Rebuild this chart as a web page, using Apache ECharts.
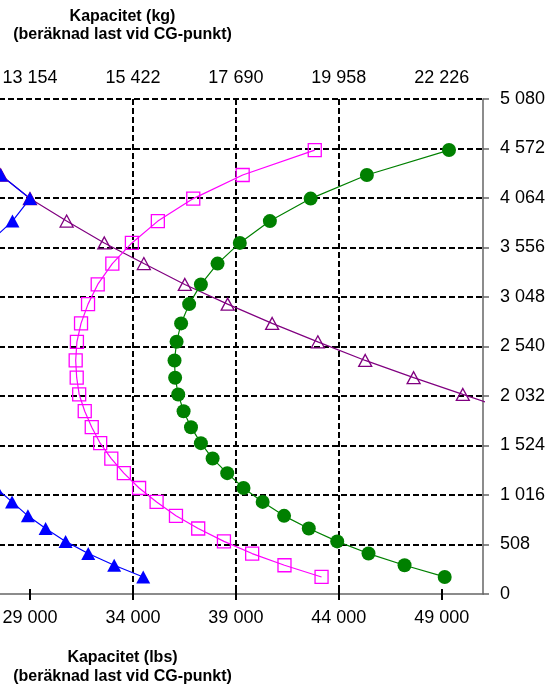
<!DOCTYPE html>
<html>
<head>
<meta charset="utf-8">
<script src="https://cdn.jsdelivr.net/npm/echarts@6/dist/echarts.min.js"></script>
<style>
html,body{margin:0;padding:0;background:#fff;overflow:hidden;width:551px;height:687px;}
#wrap{position:relative;width:551px;height:687px;overflow:hidden;}
#c{position:absolute;left:-73px;top:0;width:624px;height:687px;}
</style>
</head>
<body>
<div id="wrap"><div id="c"></div></div>
<script>
// Tick positions / labels
const lbsTicks = [29000, 34000, 39000, 44000, 49000];
const lbsLabels = ['29 000', '34 000', '39 000', '44 000', '49 000'];
const kgLabels = ['13 154', '15 422', '17 690', '19 958', '22 226'];
const yTickValues = [0, 508, 1016, 1524, 2032, 2540, 3048, 3556, 4064, 4572, 5080];
const yTickLabels = ['0', '508', '1 016', '1 524', '2 032', '2 540', '3 048', '3 556', '4 064', '4 572', '5 080'];

// Vertical values (rows shared by the curves)
const loadRows = [175, 295, 415, 540, 672, 802, 945, 1088, 1240, 1390, 1548, 1712, 1876, 2048,
                  2220, 2397, 2588, 2777, 2975, 3177, 3391, 3603, 3827, 4058, 4300, 4556];

// Capacity (lbs) for each row
const blueCap = [34500, 33090, 31830, 30730, 29760, 28900, 28130, 27350, 26750, 26250, 25850, 25500, 25250,
                 25050, 24900, 24850, 24900, 25050, 25300, 25700, 26250, 27000, 28150, 29000, 27580, 26000];
const magentaCap = [43160, 41360, 39790, 38420, 37170, 36090, 35150, 34300, 33560, 32950, 32410, 32000, 31660,
                    31390, 31270, 31220, 31280, 31480, 31820, 32290, 33000, 33950, 35210, 36930, 39330, 42830];
const greenCap = [49140, 47190, 45440, 43920, 42540, 41340, 40300, 39370, 38580, 37870, 37300, 36820, 36460,
                  36200, 36050, 36020, 36120, 36340, 36730, 37300, 38110, 39190, 40650, 42630, 45360, 49350];
const purpleRows = [1876, 2048, 2220, 2397, 2588, 2777, 2975, 3177, 3391, 3603, 3827, 4058, 4300, 4556];
const purpleCap = [52450, 50020, 47630, 45280, 42980, 40760, 38600, 36520, 34530, 32610, 30780, 29000, 27580, 26000];

function pairs(xs, ys) { return xs.map((x, i) => [x, ys[i]]); }

const dashed = { color: '#000', width: 2, type: [6, 3] };
const FONT = 'Liberation Sans';
const OFF = 73; // canvas is shifted left by this many pixels

const chart = echarts.init(document.getElementById('c'), null, { renderer: 'canvas' });
chart.setOption({
  animation: false,
  backgroundColor: '#fff',
  grid: { left: 0, right: 68, top: 99, bottom: 93 },
  xAxis: [
    {
      type: 'value', position: 'bottom', min: 24000, max: 51000, interval: 5000,
      axisLine: { show: true, onZero: false, lineStyle: { color: '#666', width: 1.5 } },
      axisTick: { show: true, length: 7, customValues: lbsTicks, lineStyle: dashed },
      axisLabel: { margin: 15, fontSize: 18, fontFamily: FONT, color: '#000', customValues: lbsTicks,
                   formatter: v => lbsLabels[lbsTicks.indexOf(v)] || '' },
      splitLine: { show: true, showMaxLine: false, showMinLine: false, lineStyle: dashed }
    },
    {
      type: 'value', position: 'top', min: 24000, max: 51000, interval: 5000,
      axisLine: { show: false },
      axisTick: { show: true, length: 5, customValues: lbsTicks, lineStyle: { color: '#000', width: 2 } },
      axisLabel: { margin: 12, fontSize: 18, fontFamily: FONT, color: '#000', customValues: lbsTicks,
                   formatter: v => kgLabels[lbsTicks.indexOf(v)] || '' },
      splitLine: { show: false }
    }
  ],
  yAxis: {
    type: 'value', position: 'right', min: 0, max: 5080, interval: 508,
    axisLine: { show: true, lineStyle: { color: '#666', width: 1.5 } },
    axisTick: { show: true, length: 6, lineStyle: { color: '#666', width: 1.5 } },
    axisLabel: { margin: 17, fontSize: 18, fontFamily: FONT, color: '#000',
                 formatter: v => { const i = yTickValues.indexOf(v); return i >= 0 ? yTickLabels[i] : ''; } },
    splitLine: { show: true, showMinLine: false, lineStyle: dashed }
  },
  series: [
    {
      type: 'line', name: 'purple', data: pairs(purpleCap, purpleRows), clip: true,
      symbol: 'triangle', symbolSize: [13, 12],
      lineStyle: { color: '#800080', width: 1.2 },
      itemStyle: { color: 'rgba(0,0,0,0)', borderColor: '#800080', borderWidth: 1.3 }
    },
    {
      type: 'line', name: 'magenta', data: pairs(magentaCap, loadRows), clip: true,
      symbol: 'rect', symbolSize: 13,
      lineStyle: { color: '#FF00FF', width: 1.2 },
      itemStyle: { color: 'rgba(0,0,0,0)', borderColor: '#FF00FF', borderWidth: 1.3 }
    },
    {
      type: 'line', name: 'green', data: pairs(greenCap, loadRows), clip: true,
      symbol: 'circle', symbolSize: 14,
      lineStyle: { color: '#008000', width: 1.2 },
      itemStyle: { color: '#008000', borderWidth: 0 }
    },
    {
      type: 'line', name: 'blue', data: pairs(blueCap, loadRows), clip: true,
      symbol: 'triangle', symbolSize: [14, 13],
      lineStyle: { color: '#0000FF', width: 1.2 },
      itemStyle: { color: '#0000FF', borderWidth: 0 }
    }
  ],
  graphic: [
    { type: 'text', x: 122.5 + OFF, y: 17, style: { text: 'Kapacitet (kg)', font: 'bold 16px "Liberation Sans"', fill: '#000', align: 'center', verticalAlign: 'middle' } },
    { type: 'text', x: 122.5 + OFF, y: 35, style: { text: '(beräknad last vid CG-punkt)', font: 'bold 16px "Liberation Sans"', fill: '#000', align: 'center', verticalAlign: 'middle' } },
    { type: 'text', x: 122.5 + OFF, y: 658, style: { text: 'Kapacitet (lbs)', font: 'bold 16px "Liberation Sans"', fill: '#000', align: 'center', verticalAlign: 'middle' } },
    { type: 'text', x: 122.5 + OFF, y: 676.5, style: { text: '(beräknad last vid CG-punkt)', font: 'bold 16px "Liberation Sans"', fill: '#000', align: 'center', verticalAlign: 'middle' } }
  ]
});
</script>
</body>
</html>
